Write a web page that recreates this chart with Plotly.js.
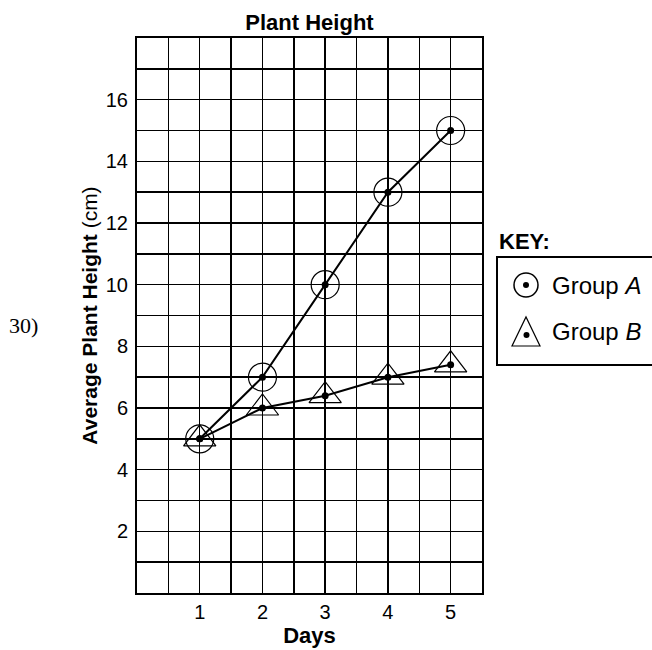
<!DOCTYPE html>
<html>
<head>
<meta charset="utf-8">
<script src="https://cdn.plot.ly/plotly-3.0.1.min.js"></script>
<style>html,body{margin:0;padding:0;background:#fff;}#chart{width:652px;height:650px;}</style>
</head>
<body>
<div id="chart"></div>
<script>
// ---- data ----
const days = [1, 2, 3, 4, 5];
const groupA = [5, 7, 10, 13, 15];
const groupB = [5, 6, 6.4, 7, 7.4];
const xTickVals = [1, 2, 3, 4, 5];
const xTickText = ['1', '2', '3', '4', '5'];
const yTickVals = [2, 4, 6, 8, 10, 12, 14, 16];
const yTickText = ['2', '4', '6', '8', '10', '12', '14', '16'];
const seriesNames = ['Group <i>A</i>', 'Group <i>B</i>'];

// ---- layout geometry helpers (plot area in px) ----
const L = 137, R = 482, T = 38, B = 593;
const px = X => (X - L) / (R - L);
const py = Y => (B - Y) / (B - T);

const ink = '#000';
const traces = [
  {x: days, y: groupA, mode: 'markers', type: 'scatter',
   marker: {symbol: 'circle-open', size: 28, color: ink, line: {width: 1.2, color: ink}},
   showlegend: false, hoverinfo: 'skip'},
  {x: days, y: groupB, mode: 'markers', type: 'scatter',
   marker: {symbol: 'triangle-up-open', size: 28, color: ink, line: {width: 1.2, color: ink}},
   showlegend: false, hoverinfo: 'skip'},
  {x: days, y: groupA, mode: 'lines+markers', type: 'scatter',
   line: {color: ink, width: 2}, marker: {size: 7, color: ink}, showlegend: false},
  {x: days, y: groupB, mode: 'lines+markers', type: 'scatter',
   line: {color: ink, width: 2}, marker: {size: 7, color: ink}, showlegend: false}
];

const tri = (cx, cy) => `M ${px(cx-14)},${py(cy+11)} L ${px(cx+14)},${py(cy+11)} L ${px(cx)},${py(cy-18)} Z`;
const box = `M ${px(720)},${py(257)} L ${px(497)},${py(257)} L ${px(497)},${py(365)} L ${px(720)},${py(365)}`;

const layout = {
  width: 652, height: 650,
  margin: {l: L, r: 652 - R, t: T, b: 650 - B, pad: 0},
  paper_bgcolor: '#fff', plot_bgcolor: '#fff',
  font: {family: 'Liberation Sans, Arial, sans-serif', color: ink},
  title: {text: '<b>Plant Height</b>', x: (L + R) / 2 / 652, xanchor: 'center',
          y: 1 - 22 / 650, yanchor: 'middle', yref: 'container',
          font: {family: 'Liberation Sans, sans-serif', size: 22, color: ink}},
  xaxis: {range: [0, 5.5], tickvals: xTickVals, ticktext: xTickText,
          showgrid: true, gridcolor: ink, gridwidth: 1.5,
          minor: {dtick: 0.5, tick0: 0, showgrid: true, gridcolor: ink, gridwidth: 1.5},
          showline: true, mirror: true, linecolor: ink, linewidth: 2,
          zeroline: false, ticks: '', ticklabelstandoff: 0,
          tickfont: {size: 20, color: ink},
          title: {text: '<b>Days</b>', standoff: 2, font: {size: 22, color: ink}}},
  yaxis: {range: [0, 18], tickvals: yTickVals, ticktext: yTickText,
          showgrid: true, gridcolor: ink, gridwidth: 1.5,
          minor: {dtick: 1, tick0: 0, showgrid: true, gridcolor: ink, gridwidth: 1.5},
          showline: true, mirror: true, linecolor: ink, linewidth: 2,
          zeroline: false, ticks: '', ticklabelstandoff: 3,
          tickfont: {size: 20, color: ink},
          title: {text: '<b>Average Plant Height</b> (cm)', standoff: 2, font: {size: 21, color: ink}}},
  shapes: [
    {type: 'path', xref: 'paper', yref: 'paper', path: box, line: {color: ink, width: 2}},
    {type: 'circle', xref: 'paper', yref: 'paper', x0: px(514), x1: px(538), y0: py(297), y1: py(273),
     line: {color: ink, width: 1.5}},
    {type: 'circle', xref: 'paper', yref: 'paper', x0: px(523), x1: px(529), y0: py(288), y1: py(282),
     fillcolor: ink, line: {color: ink, width: 0}},
    {type: 'path', xref: 'paper', yref: 'paper', path: tri(526, 335), line: {color: ink, width: 1.2}},
    {type: 'circle', xref: 'paper', yref: 'paper', x0: px(523.5), x1: px(529.5), y0: py(338), y1: py(332),
     fillcolor: ink, line: {color: ink, width: 0}}
  ],
  annotations: [
    {text: '<b>KEY:</b>', xref: 'paper', yref: 'paper', x: px(497), y: py(241), xanchor: 'left', yanchor: 'middle',
     showarrow: false, font: {size: 22, color: ink}},
    {text: seriesNames[0], xref: 'paper', yref: 'paper', x: px(550), y: py(285), xanchor: 'left', yanchor: 'middle',
     showarrow: false, font: {size: 24, color: ink}},
    {text: seriesNames[1], xref: 'paper', yref: 'paper', x: px(550), y: py(332), xanchor: 'left', yanchor: 'middle',
     showarrow: false, font: {size: 24, color: ink}},
    {text: '30)', xref: 'paper', yref: 'paper', x: px(7), y: py(325), xanchor: 'left', yanchor: 'middle',
     showarrow: false, font: {family: 'Liberation Serif, Times New Roman, serif', size: 22, color: ink}}
  ]
};

Plotly.newPlot('chart', traces, layout, {staticPlot: true, displayModeBar: false});
</script>
</body>
</html>
